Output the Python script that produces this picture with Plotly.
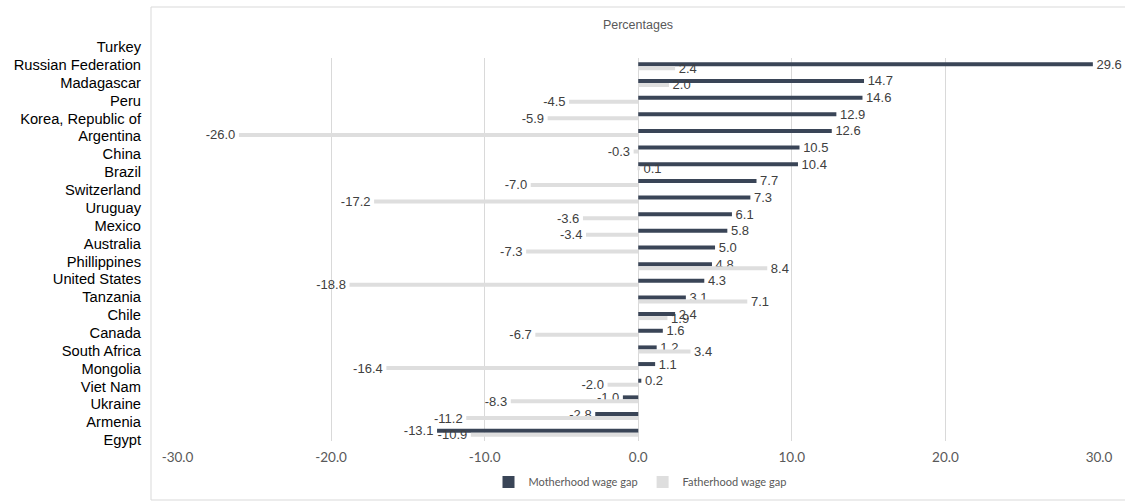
import plotly.graph_objects as go

countries = ["Turkey", "Russian Federation", "Madagascar", "Peru", "Korea, Republic of",
             "Argentina", "China", "Brazil", "Switzerland", "Uruguay", "Mexico",
             "Australia", "Phillippines", "United States", "Tanzania", "Chile", "Canada",
             "South Africa", "Mongolia", "Viet Nam", "Ukraine", "Armenia", "Egypt"]
motherhood = [29.6, 14.7, 14.6, 12.9, 12.6, 10.5, 10.4, 7.7, 7.3, 6.1, 5.8, 5.0, 4.8,
              4.3, 3.1, 2.4, 1.6, 1.2, 1.1, 0.2, -1.0, -2.8, -13.1]
fatherhood = [2.4, 2.0, -4.5, -5.9, -26.0, -0.3, 0.1, -7.0, -17.2, -3.6, -3.4, -7.3, 8.4,
              -18.8, 7.1, 1.9, -6.7, 3.4, -16.4, -2.0, -8.3, -11.2, -10.9]
x_ticks = [-30, -20, -10, 0, 10, 20, 30]

W, H = 1125, 503
DARK = "#3a4557"
LIGHT = "#dedede"
GRID = "#d9d9d9"


def px_x(p):
    return p / W


def px_y(p):
    return 1 - p / H


def label(v):
    # small gap between bar end and its value label
    s = f"{v:.1f}"
    return "\u00a0" + s if v >= 0 else s + "\u00a0"


fig = go.Figure()
label_font = dict(family="Liberation Sans, Arial, sans-serif", size=13, color="#404040")

fig.add_trace(go.Bar(
    name="Motherhood wage gap", y=countries, x=motherhood, orientation="h",
    marker=dict(color=DARK, line=dict(width=0)),
    text=[label(v) for v in motherhood], textposition="outside", textfont=label_font,
    constraintext="none", cliponaxis=False, hoverinfo="x+y",
))
fig.add_trace(go.Bar(
    name="Fatherhood wage gap", y=countries, x=fatherhood, orientation="h",
    marker=dict(color=LIGHT, line=dict(width=0)),
    text=[label(v) for v in fatherhood], textposition="outside", textfont=label_font,
    constraintext="none", cliponaxis=False, hoverinfo="x+y",
))
# country label column (separate axis, as in the reference)
fig.add_trace(go.Scatter(
    x=[0] * len(countries), y=countries, xaxis="x2", yaxis="y2",
    mode="markers", marker=dict(opacity=0), showlegend=False, hoverinfo="skip",
))

fig.update_layout(
    width=W, height=H,
    margin=dict(l=0, r=0, t=0, b=0),
    paper_bgcolor="white", plot_bgcolor="white",
    barmode="group", bargap=0.52, bargroupgap=0,
    title=dict(text="Percentages", x=px_x(638), xanchor="center", y=px_y(25), yanchor="middle",
               font=dict(family="Liberation Sans, Arial, sans-serif", size=12.5, color="#595959")),
    xaxis=dict(domain=[px_x(177.5), px_x(1099)], range=[-30, 30], tickmode="array",
               tickvals=x_ticks, ticktext=[f"{v:.1f}" for v in x_ticks],
               showgrid=True, gridcolor=GRID, gridwidth=1,
               zeroline=True, zerolinecolor=GRID, zerolinewidth=1, showline=False,
               ticks="", ticklabelstandoff=6, automargin=False,
               tickfont=dict(family="Lato, sans-serif", size=13.5, color="#595959")),
    yaxis=dict(domain=[px_y(441), px_y(58)], range=[len(countries) - 0.5, -0.5],
               type="category", showticklabels=False, showgrid=False, zeroline=False,
               showline=False, ticks="", automargin=False),
    xaxis2=dict(domain=[px_x(142), px_x(143)], range=[0, 1], visible=False),
    yaxis2=dict(domain=[px_y(448.9), px_y(38.07)], range=[len(countries) - 0.5, -0.5],
                type="category", anchor="x2", tickmode="array", tickvals=countries,
                showgrid=False, zeroline=False, showline=False, ticks="", automargin=False,
                tickfont=dict(family="Liberation Sans, Arial, sans-serif", size=14.7,
                              color="#000000")),
    legend=dict(orientation="h", x=px_x(640), xanchor="center", y=px_y(482), yanchor="middle",
                font=dict(family="Lato, sans-serif", size=11, color="#595959"),
                traceorder="normal", itemwidth=30, bgcolor="rgba(0,0,0,0)"),
    shapes=[dict(type="rect", xref="paper", yref="paper",
                 x0=px_x(151), x1=1.02, y0=px_y(500), y1=px_y(7),
                 line=dict(color=GRID, width=1), fillcolor="rgba(0,0,0,0)", layer="below")],
    showlegend=True,
)

fig.write_html(
    "out.html",
    config={"displayModeBar": False},
    post_script="document.body.style.margin='0';document.body.style.overflow='hidden';",
)
